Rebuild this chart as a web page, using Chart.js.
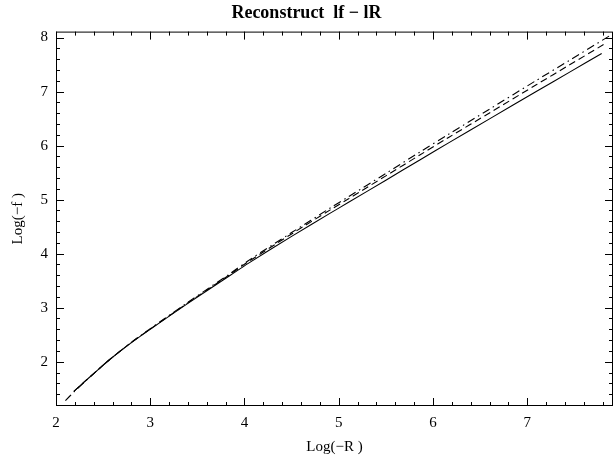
<!DOCTYPE html>
<html>
<head>
<meta charset="utf-8">
<script src="https://cdn.jsdelivr.net/npm/chart.js@4/dist/chart.umd.min.js"></script>
<style>
  html, body { margin: 0; padding: 0; background: #fff; }
  #wrap { width: 613px; height: 468px; }
</style>
</head>
<body>
<div id="wrap"><canvas id="plot"></canvas></div>
<script>
// values
const solidX = [2.19, 2.3, 2.4, 2.57, 2.79, 3.0, 3.4, 3.85, 4.04, 4.5, 4.91, 5.1, 5.5, 5.86, 6.17, 6.6, 7.1, 7.45, 7.79];
const solidY = [1.45, 1.625, 1.78, 2.04, 2.34, 2.6, 3.08, 3.6, 3.82, 4.32, 4.75, 4.945, 5.36, 5.735, 6.055, 6.495, 7.005, 7.36, 7.705];

const dashX = [2.19, 2.3, 2.4, 2.57, 2.79, 3.0, 3.4, 3.85, 4.04, 4.5, 4.91, 5.1, 5.5, 5.86, 6.17, 6.6, 7.1, 7.45, 7.81];
const dashY = [1.45, 1.625, 1.78, 2.04, 2.345, 2.605, 3.09, 3.62, 3.85, 4.365, 4.81, 5.01, 5.44, 5.825, 6.155, 6.605, 7.13, 7.495, 7.87];

const dotDashX = [2.1, 2.19, 2.3, 2.4, 2.57, 2.79, 3.0, 3.4, 3.85, 4.04, 4.5, 4.91, 5.1, 5.5, 5.86, 6.17, 6.6, 7.1, 7.45, 7.9];
const dotDashY = [1.28, 1.44, 1.62, 1.78, 2.04, 2.345, 2.61, 3.1, 3.635, 3.87, 4.39, 4.845, 5.05, 5.485, 5.88, 6.215, 6.675, 7.21, 7.58, 8.06];

const xTicks = [2, 3, 4, 5, 6, 7];
const yTicks = [2, 3, 4, 5, 6, 7, 8];

const serif = "'Liberation Serif', 'DejaVu Serif', serif";

function pts(xs, ys) {
    return xs.map((x, i) => ({x: x, y: ys[i]}));
}

// Mathematica-style frame with inward ticks
const frame = {
    id: 'frame',
    afterDraw(chart) {
        const {ctx, chartArea: a, scales: {x, y}} = chart;
        ctx.save();
        ctx.strokeStyle = '#000';
        ctx.lineWidth = 1;
        ctx.strokeRect(a.left + 0.5, a.top + 0.5, a.right - a.left - 1, a.bottom - a.top - 1);
        ctx.beginPath();
        for (let i = 0; i <= 30; i++) {
            const v = Math.round((2 + i * 0.2) * 10) / 10;
            if (v > x.max) break;
            const px = Math.round(x.getPixelForValue(v)) + 0.5;
            const len = Number.isInteger(v) ? 8 : 4;
            ctx.moveTo(px, a.bottom); ctx.lineTo(px, a.bottom - len);
            ctx.moveTo(px, a.top); ctx.lineTo(px, a.top + len);
        }
        for (let i = 0; i <= 40; i++) {
            const v = Math.round((1.2 + i * 0.2) * 10) / 10;
            if (v > y.max) break;
            if (v < y.min) continue;
            const py = Math.round(y.getPixelForValue(v)) + 0.5;
            const len = Number.isInteger(v) ? 8 : 4;
            ctx.moveTo(a.left, py); ctx.lineTo(a.left + len, py);
            ctx.moveTo(a.right, py); ctx.lineTo(a.right - len, py);
        }
        ctx.stroke();
        ctx.restore();
    }
};

new Chart(document.getElementById('plot'), {
    type: 'scatter',
    data: {
        datasets: [
            {
                label: 'solid',
                data: pts(solidX, solidY),
                showLine: true,
                borderColor: '#000',
                borderWidth: 1.1,
                pointRadius: 0,
                tension: 0.3,
            },
            {
                label: 'dashed',
                data: pts(dashX, dashY),
                showLine: true,
                borderColor: '#000',
                borderWidth: 1.1,
                borderDash: [7, 4],
                pointRadius: 0,
                tension: 0.3,
            },
            {
                label: 'dot-dashed',
                data: pts(dotDashX, dotDashY),
                showLine: true,
                borderColor: '#000',
                borderWidth: 1.1,
                borderDash: [8, 4, 1.5, 4],
                pointRadius: 0,
                tension: 0.3,
            },
        ],
    },
    options: {
        responsive: true,
        maintainAspectRatio: false,
        animation: false,
        layout: { padding: 0 },
        plugins: {
            legend: { display: false },
            tooltip: { enabled: false },
            title: {
                display: true,
                text: 'Reconstruct  lf \u2212 lR',
                color: '#000',
                font: { family: serif, size: 18, weight: 'bold' },
                padding: { top: 3, bottom: 7 },
            },
        },
        scales: {
            x: {
                type: 'linear',
                min: 2,
                max: 7.91,
                afterBuildTicks: (s) => { s.ticks = xTicks.map(v => ({value: v})); },
                afterFit: (s) => { s.height = 62; },
                grid: { display: false, drawTicks: false },
                border: { display: false },
                ticks: {
                    color: '#000',
                    padding: 8,
                    maxRotation: 0,
                    font: { family: serif, size: 15 },
                },
                title: {
                    display: true,
                    text: 'Log(\u2212R )',
                    color: '#000',
                    font: { family: serif, size: 15 },
                    padding: { top: 0, bottom: 12 },
                },
            },
            y: {
                type: 'linear',
                min: 1.18,
                max: 8.11,
                afterBuildTicks: (s) => { s.ticks = yTicks.map(v => ({value: v})); },
                afterFit: (s) => { s.width = 56; },
                grid: { display: false, drawTicks: false },
                border: { display: false },
                ticks: {
                    color: '#000',
                    padding: 8,
                    font: { family: serif, size: 15 },
                },
                title: {
                    display: true,
                    text: 'Log(\u2212f )',
                    color: '#000',
                    font: { family: serif, size: 15 },
                    padding: { top: 9, bottom: 0 },
                },
            },
        },
    },
    plugins: [frame],
});
</script>
</body>
</html>
